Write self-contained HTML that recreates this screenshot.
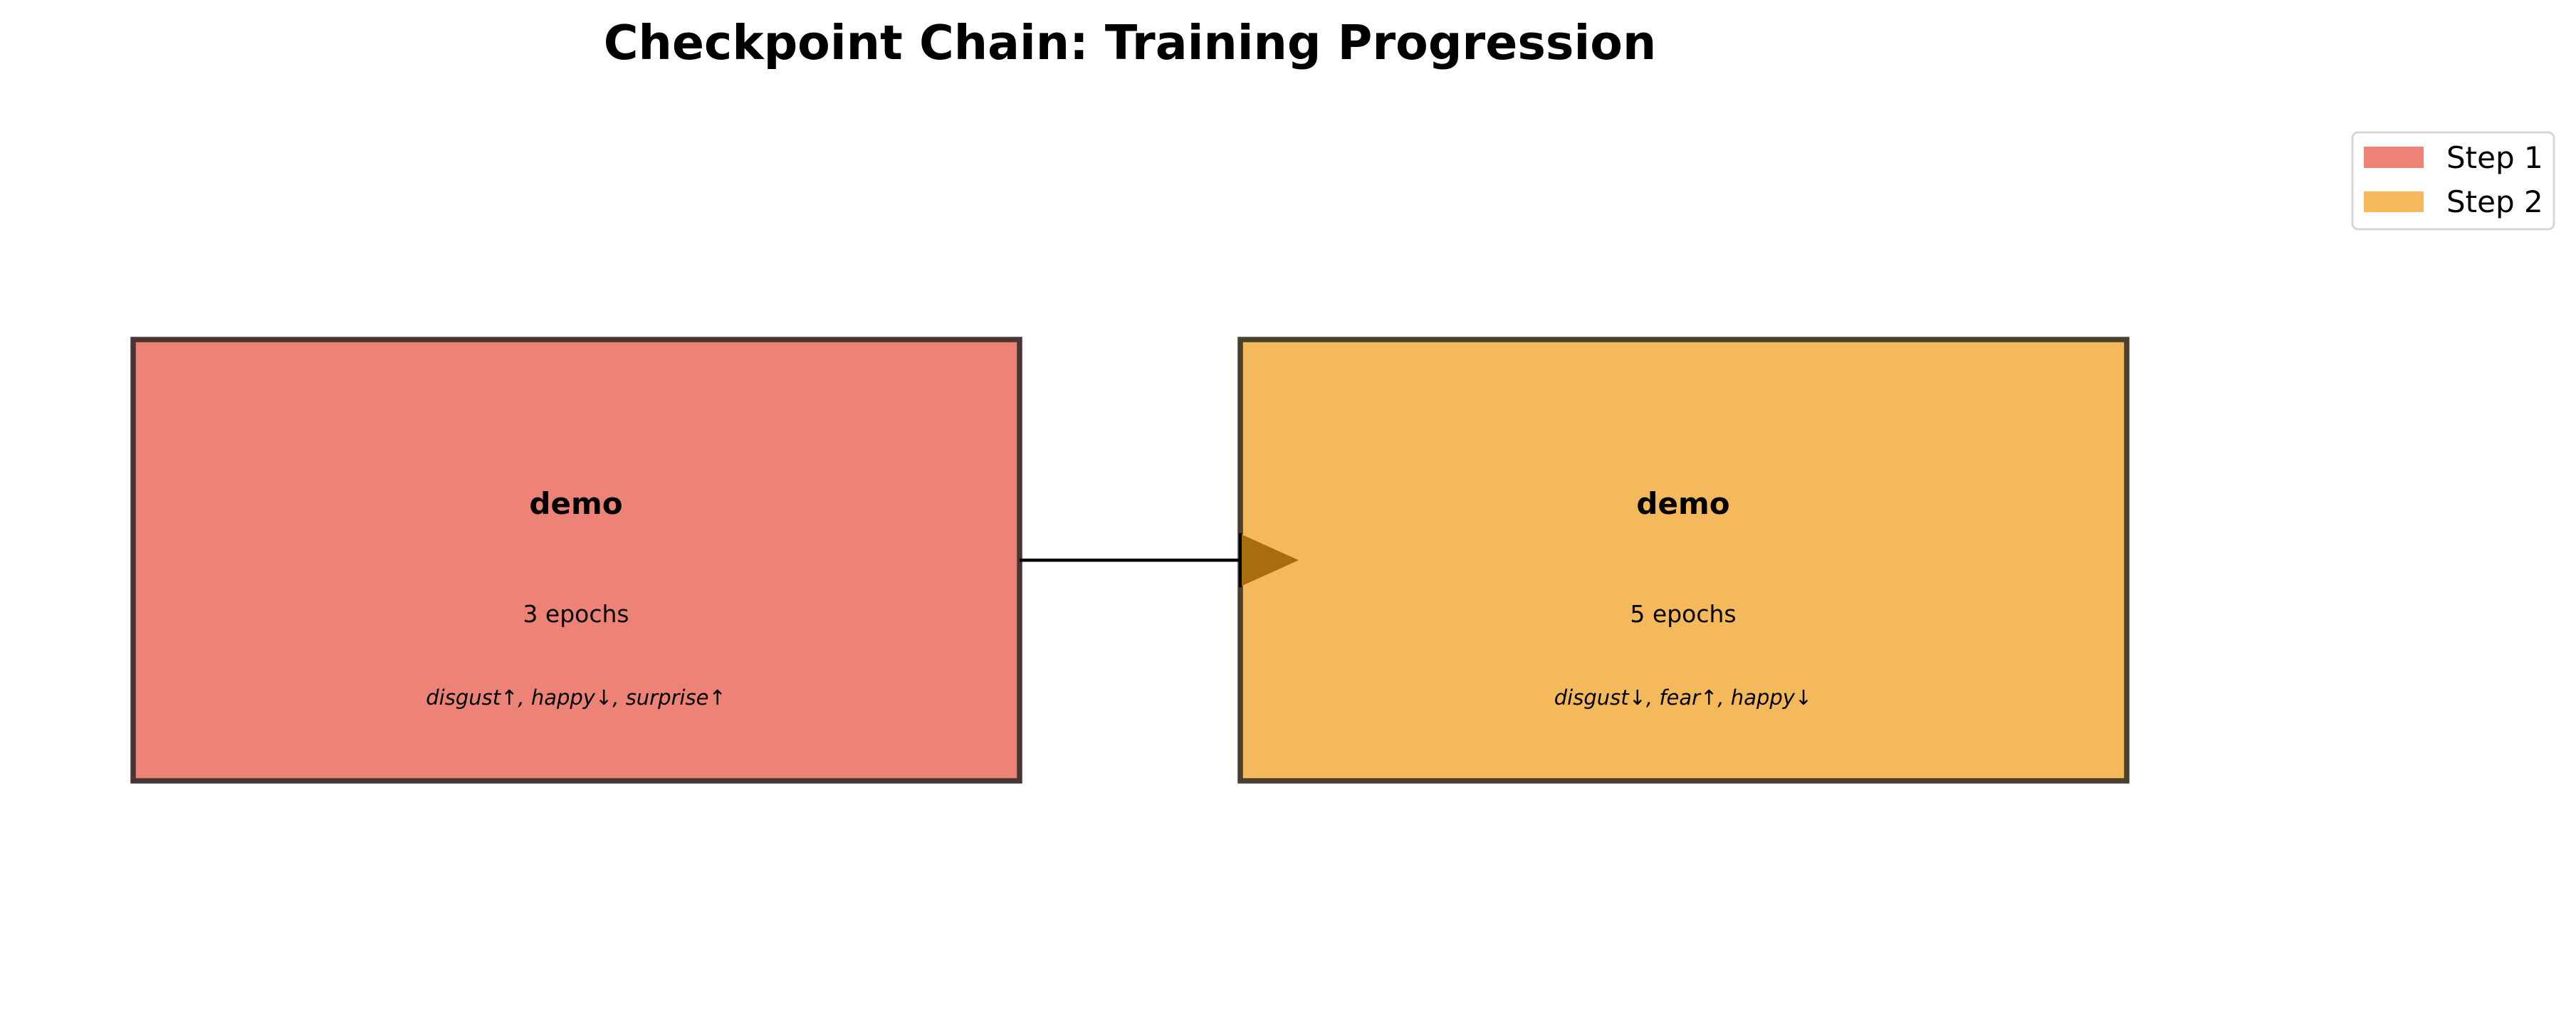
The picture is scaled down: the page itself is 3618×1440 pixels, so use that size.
<!DOCTYPE html>
<html><head><meta charset="utf-8"><style>html,body{margin:0;padding:0;background:#fff}svg{display:block}</style></head>
<body>
<svg width="3618" height="1440" xmlns="http://www.w3.org/2000/svg" font-family="DejaVu Sans, Liberation Sans, sans-serif">
<rect width="3618" height="1440" fill="#fff"/>
<text x="1587" y="83" font-size="66.5" font-weight="bold" text-anchor="middle" fill="#000">Checkpoint Chain: Training Progression</text>
<rect x="187" y="477" width="1245" height="620" fill="#ED8277" stroke="#473634" stroke-width="7.5"/>
<rect x="1742" y="477" width="1245" height="620" fill="#F4B95A" stroke="#4a3f2e" stroke-width="7.5"/>
<line x1="1432" y1="787" x2="1742" y2="787" stroke="#000" stroke-width="4.5"/>
<polygon points="1742,750 1824,787 1742,824" fill="#A86D0E"/>
<line x1="1742" y1="749" x2="1742" y2="825" stroke="#000" stroke-width="4"/>
<g text-anchor="middle" fill="#000">
<text x="809" y="722" font-size="42" font-weight="bold">demo</text>
<text x="809" y="874" font-size="33">3 epochs</text>
<text x="809" y="990" font-size="29" font-style="italic">disgust↑, happy↓, surprise↑</text>
<text x="2364" y="722" font-size="42" font-weight="bold">demo</text>
<text x="2364" y="874" font-size="33">5 epochs</text>
<text x="2364" y="990" font-size="29" font-style="italic">disgust↓, fear↑, happy↓</text>
</g>
<rect x="3304" y="186" width="283" height="136" rx="8" fill="#fff" stroke="#d6d6d6" stroke-width="3"/>
<rect x="3320" y="206" width="84" height="30" fill="#ED8277"/>
<rect x="3320" y="269" width="84" height="29" fill="#F4B95A"/>
<text x="3436" y="236" font-size="42" fill="#000">Step 1</text>
<text x="3436" y="298" font-size="42" fill="#000">Step 2</text>
</svg>
</body></html>
